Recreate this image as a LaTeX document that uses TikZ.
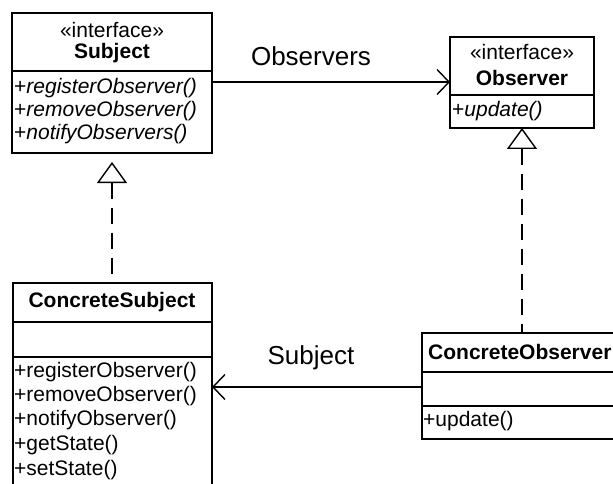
\documentclass[tikz,border=0pt]{standalone}
\usepackage{fontspec}
\setmainfont{Liberation Sans}
\usetikzlibrary{arrows.meta}
\begin{document}
\begin{tikzpicture}[x=1pt,y=-1pt,
  comp/.style={draw, line width=1.4pt, anchor=north west, inner sep=0pt, outer sep=0pt},
  txt/.style={font=\fontsize{21}{24}\selectfont, inner sep=0pt},
  meth/.style={txt, anchor=west},
  lbl/.style={font=\fontsize{26}{30}\selectfont, inner sep=0pt},
  assoc/.style={line width=1.4pt, -{Straight Barb[length=12pt, width=25pt, line width=1.4pt]}},
  realz/.style={line width=1.4pt, dash pattern=on 16pt off 9pt, {Triangle[open, length=21pt, width=30pt, line width=1.4pt]}-}
]
\useasboundingbox (0,0) rectangle (613,484);

% Subject
\node[comp, minimum width=200pt, minimum height=58pt] (sh) at (12,13) {};
\node[comp, minimum width=200pt, minimum height=82pt] (so) at (12,71) {};
\node[txt] (sh1) at (112,30) {«interface»};
\node[txt] (sh2) at (112,53) {\bfseries Subject};
\node[meth] (sm1) at (14,88) {+\itshape registerObserver()};
\node[meth] (sm2) at (14,111) {+\itshape removeObserver()};
\node[meth] (sm3) at (14,134) {+\itshape notifyObservers()};

% Observer
\node[comp, minimum width=144pt, minimum height=58pt] (oh) at (450,37) {};
\node[comp, minimum width=144pt, minimum height=33pt] (oo) at (450,95) {};
\node[txt] (oh1) at (522,52) {«interface»};
\node[txt] (oh2) at (522,78) {\bfseries Observer};
\node[meth] (om1) at (452,111) {+\itshape update()};

% ConcreteSubject
\node[comp, minimum width=199pt, minimum height=39pt] (csh) at (13,283) {};
\node[comp, minimum width=199pt, minimum height=35pt] (csa) at (13,322) {};
\node[comp, minimum width=199pt, minimum height=150pt] (cso) at (13,357) {};
\node[txt] (csh1) at (112,302) {\bfseries ConcreteSubject};
\node[meth] (csm1) at (14,372) {+registerObserver()};
\node[meth] (csm2) at (14,396) {+removeObserver()};
\node[meth] (csm3) at (14,420) {+notifyObserver()};
\node[meth] (csm4) at (14,445) {+getState()};
\node[meth] (csm5) at (14,470) {+setState()};

% ConcreteObserver
\node[comp, minimum width=196pt, minimum height=39pt] (coh) at (422,333) {};
\node[comp, minimum width=196pt, minimum height=34pt] (coa) at (422,372) {};
\node[comp, minimum width=196pt, minimum height=33pt] (coo) at (422,406) {};
\node[txt, anchor=west] (coh1) at (428,352) {\bfseries ConcreteObserver};
\node[meth] (com1) at (423,421) {+update()};

% Associations
\coordinate (ar1) at (0,82);
\coordinate (ar2) at (0,387);
\draw[assoc] (so.east |- ar1) -- (oh.west |- ar1);
\node[lbl] (l1) at (311,56) {Observers};
\draw[assoc] (coa.west |- ar2) -- (cso.east |- ar2);
\node[lbl] (l2) at (311,358) {Subject};

% Realizations
\draw[realz, shorten <=9pt] (so.south) -- (csh.north -| so.south);
\draw[realz] (oo.south) -- (coh.north -| oo.south);
\end{tikzpicture}
\end{document}
